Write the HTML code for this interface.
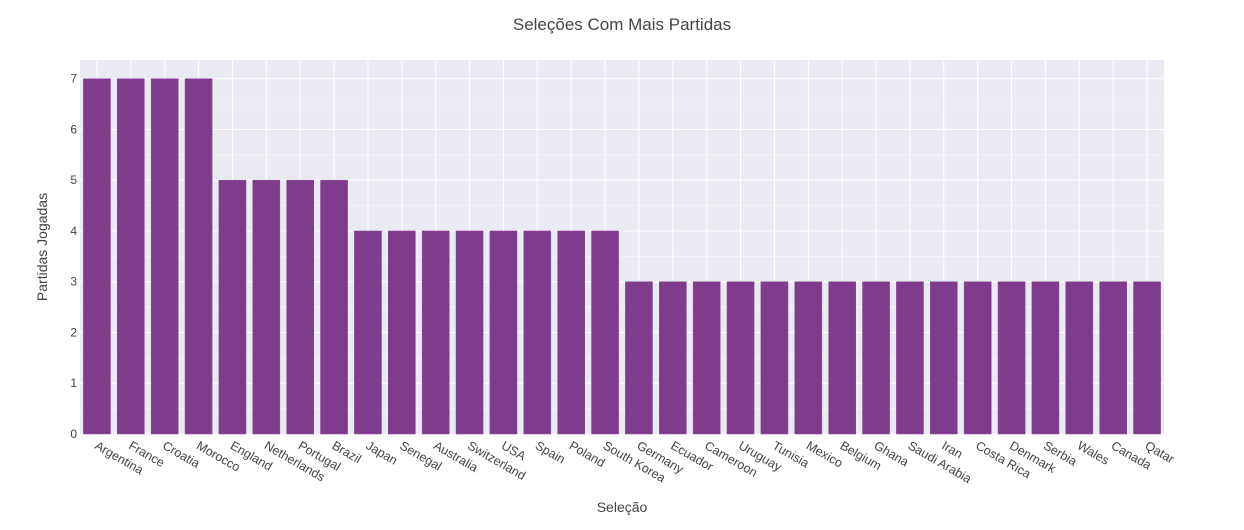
<!DOCTYPE html>
<html><head><meta charset="utf-8"><style>
body{margin:0;background:#fff;font-family:"Liberation Sans",sans-serif}
</style></head><body>
<svg width="1244" height="525" id="chart" xmlns="http://www.w3.org/2000/svg">
<rect x="80" y="60" width="1084" height="374" fill="#eaeaf2"/>
<g id="grid"></g><g id="bars"></g><g id="xticks"></g><g id="yticks"></g>
<text x="622" y="30" text-anchor="middle" font-size="17" fill="#444">Seleções Com Mais Partidas</text>
<text x="622" y="512" text-anchor="middle" font-size="14" fill="#444">Seleção</text>
<text transform="translate(47,247) rotate(-90)" text-anchor="middle" font-size="14" fill="#444">Partidas Jogadas</text>
</svg>
<script>
const categories=["Argentina","France","Croatia","Morocco","England","Netherlands","Portugal","Brazil","Japan","Senegal","Australia","Switzerland","USA","Spain","Poland","South Korea","Germany","Ecuador","Cameroon","Uruguay","Tunisia","Mexico","Belgium","Ghana","Saudi Arabia","Iran","Costa Rica","Denmark","Serbia","Wales","Canada","Qatar"];
const values=[7,7,7,7,5,5,5,5,4,4,4,4,4,4,4,4,3,3,3,3,3,3,3,3,3,3,3,3,3,3,3,3];
const yTicks=[0,1,2,3,4,5,6,7];
const NS="http://www.w3.org/2000/svg";
const L=80,R=1164,T=60,B=434,yMax=7.368;
const bw=(R-L)/categories.length;
const xc=i=>L+bw*(i+0.5);
const y=v=>B-(v/yMax)*(B-T);
function mk(tag,attrs,parent){const e=document.createElementNS(NS,tag);for(const k in attrs)e.setAttribute(k,attrs[k]);document.getElementById(parent).appendChild(e);return e;}
for(let v=0.5;v<yMax;v+=1){const l=mk('line',{x1:L,x2:R,y1:y(v),y2:y(v),stroke:'#f3f3f8','stroke-width':1},'grid');

}
yTicks.forEach(v=>{const l=mk('line',{x1:L,x2:R,y1:y(v),y2:y(v),stroke:'#fff','stroke-width':1},'grid');


const t=mk('text',{x:L-3,y:y(v)+4,'text-anchor':'end','font-size':12,fill:'#444'},'yticks');t.textContent=v;

});
categories.forEach((c,i)=>{const l=mk('line',{x1:xc(i),x2:xc(i),y1:T,y2:B,stroke:'#fff','stroke-width':1},'grid');


const bwid=bw*0.8;const b=mk('rect',{x:xc(i)-bwid/2,y:y(values[i]),width:bwid,height:B-y(values[i]),fill:'#7f3c8d',stroke:'#8a4a97','stroke-width':0.5},'bars');


const t=mk('text',{transform:`translate(${xc(i)-3},${B+14}) rotate(30)`,'font-size':12.5,fill:'#444'},'xticks');t.textContent=c;

});
</script>
</body></html>
